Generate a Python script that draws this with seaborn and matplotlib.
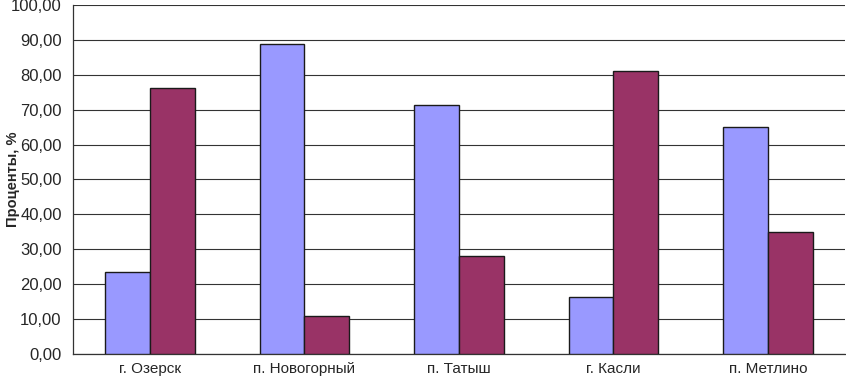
import numpy as np
import pandas as pd
import matplotlib.pyplot as plt
import seaborn as sns
from matplotlib.ticker import FixedLocator, FuncFormatter

# -----------------------------------
# Data
# -----------------------------------
towns = ["г. Озерск", "п. Новогорный", "п. Татыш", "г. Касли", "п. Метлино"]
series_a = [23.6, 88.8, 71.3, 16.3, 64.9]
series_b = [76.3, 11.0, 28.0, 81.2, 34.9]
series_names = ["A", "B"]

df = pd.DataFrame({
    "town": towns * 2,
    "value": series_a + series_b,
    "series": [series_names[0]] * len(towns) + [series_names[1]] * len(towns),
})

sns.set_style("white")
plt.rcParams["font.family"] = ["Liberation Sans", "DejaVu Sans"]

fig, ax = plt.subplots(figsize=(8.46, 3.79), dpi=100)
fig.subplots_adjust(left=0.086, right=0.999, top=0.987, bottom=0.066)

sns.barplot(data=df, x="town", y="value", hue="series",
            palette=["#9999FF", "#993366"], width=0.58,
            edgecolor="#1a1a1a", linewidth=1.0, saturation=1,
            legend=False, ax=ax, zorder=3)

# -----------------------------------
# Axes styling
# -----------------------------------
ax.set_ylim(0, 100)
ax.set_xlim(-0.5, len(towns) - 0.5)
ax.set_yticks(np.arange(0, 101, 10))
ax.yaxis.set_major_formatter(FuncFormatter(lambda v, p: f"{v:.2f}".replace(".", ",")))
ax.yaxis.grid(True, color="#333333", linewidth=0.8, zorder=0)
ax.set_axisbelow(True)

ax.xaxis.set_minor_locator(FixedLocator(np.arange(-0.5, len(towns), 1.0)))
ax.tick_params(axis="x", which="major", length=0, labelsize=11, pad=6)
ax.tick_params(axis="x", which="minor", length=4, width=0.8, color="#333333", direction="out")
ax.tick_params(axis="y", length=4, width=0.8, color="#333333", direction="out",
               labelsize=12, pad=4)

for side in ["top", "right"]:
    ax.spines[side].set_visible(False)
for side in ["left", "bottom"]:
    ax.spines[side].set_color("#333333")
    ax.spines[side].set_linewidth(0.9)

ax.set_xlabel("")
ax.set_ylabel("Проценты, %", fontsize=10.5, fontweight="bold")
ax.yaxis.set_label_coords(-0.068, 0.5)

plt.savefig("out.png", dpi=100)
